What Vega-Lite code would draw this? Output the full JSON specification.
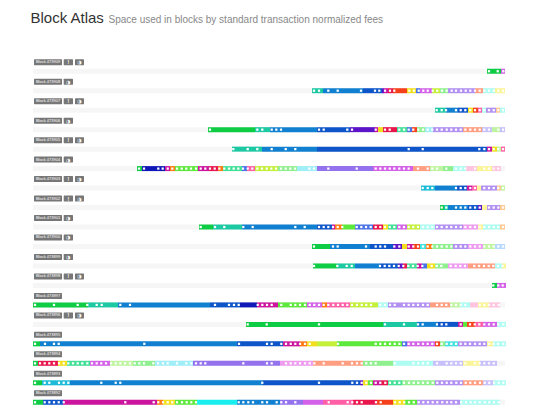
{
  "$schema": "https://vega.github.io/schema/vega-lite/v6.json",
  "width": 472,
  "height": 350.5,
  "autosize": "none",
  "padding": {"left": 33, "top": 57, "right": 35, "bottom": 0},
  "background": "white",
  "config": {
    "view": {"stroke": null},
    "axisX": {
      "labels": false,
      "ticks": false,
      "domain": false,
      "grid": false,
      "titleX": -3,
      "titleY": -385.5,
      "titleAlign": "left",
      "titleAnchor": "start",
      "titleBaseline": "alphabetic",
      "titleFontSize": 15,
      "titleFontWeight": "normal",
      "titleColor": "#333333",
      "titleFont": "Liberation Sans"
    }
  },
  "datasets": {
    "blocks": [
      {"block": "473909", "label": "Block 473909", "alert": true, "icon": true},
      {"block": "473908", "label": "Block 473908", "alert": false, "icon": true},
      {"block": "473907", "label": "Block 473907", "alert": true, "icon": true},
      {"block": "473906", "label": "Block 473906", "alert": false, "icon": true},
      {"block": "473905", "label": "Block 473905", "alert": true, "icon": true},
      {"block": "473904", "label": "Block 473904", "alert": false, "icon": true},
      {"block": "473903", "label": "Block 473903", "alert": true, "icon": true},
      {"block": "473902", "label": "Block 473902", "alert": true, "icon": true},
      {"block": "473901", "label": "Block 473901", "alert": false, "icon": true},
      {"block": "473900", "label": "Block 473900", "alert": false, "icon": true},
      {"block": "473899", "label": "Block 473899", "alert": false, "icon": true},
      {"block": "473898", "label": "Block 473898", "alert": true, "icon": true},
      {"block": "473897", "label": "Block 473897", "alert": false, "icon": false},
      {"block": "473896", "label": "Block 473896", "alert": true, "icon": true},
      {"block": "473895", "label": "Block 473895", "alert": false, "icon": false},
      {"block": "473894", "label": "Block 473894", "alert": false, "icon": false},
      {"block": "473893", "label": "Block 473893", "alert": false, "icon": false},
      {"block": "473892", "label": "Block 473892", "alert": false, "icon": false}
    ],
    "segments": [
      {"block":"473909","start":454,"end":468,"tier":0},{"block":"473909","start":468,"end":472,"tier":17},
      {"block":"473908","start":279,"end":290,"tier":1},{"block":"473908","start":290,"end":330,"tier":2},{"block":"473908","start":330,"end":349,"tier":3},{"block":"473908","start":349,"end":351,"tier":5},{"block":"473908","start":351,"end":355,"tier":6},{"block":"473908","start":355,"end":360,"tier":7},{"block":"473908","start":360,"end":374,"tier":8},{"block":"473908","start":374,"end":383,"tier":10},{"block":"473908","start":383,"end":387,"tier":15},{"block":"473908","start":387,"end":399,"tier":17},{"block":"473908","start":399,"end":407,"tier":11},{"block":"473908","start":407,"end":415,"tier":29},{"block":"473908","start":415,"end":442,"tier":30},{"block":"473908","start":442,"end":450,"tier":19},{"block":"473908","start":450,"end":462,"tier":23},{"block":"473908","start":462,"end":472,"tier":21},
      {"block":"473907","start":402,"end":413,"tier":1},{"block":"473907","start":413,"end":425,"tier":2},{"block":"473907","start":425,"end":435,"tier":3},{"block":"473907","start":435,"end":440,"tier":10},{"block":"473907","start":440,"end":445,"tier":8},{"block":"473907","start":445,"end":449,"tier":18},{"block":"473907","start":449,"end":453,"tier":23},{"block":"473907","start":453,"end":463,"tier":30},{"block":"473907","start":463,"end":467,"tier":20},{"block":"473907","start":467,"end":472,"tier":23},
      {"block":"473906","start":175,"end":222,"tier":0},{"block":"473906","start":222,"end":237,"tier":1},{"block":"473906","start":237,"end":284,"tier":2},{"block":"473906","start":284,"end":317,"tier":3},{"block":"473906","start":317,"end":342,"tier":5},{"block":"473906","start":342,"end":345,"tier":6},{"block":"473906","start":345,"end":350,"tier":10},{"block":"473906","start":350,"end":364,"tier":7},{"block":"473906","start":364,"end":374,"tier":13},{"block":"473906","start":374,"end":379,"tier":15},{"block":"473906","start":379,"end":384,"tier":8},{"block":"473906","start":384,"end":392,"tier":29},{"block":"473906","start":392,"end":400,"tier":28},{"block":"473906","start":400,"end":430,"tier":30},{"block":"473906","start":430,"end":449,"tier":19},{"block":"473906","start":449,"end":459,"tier":24},{"block":"473906","start":459,"end":467,"tier":22},{"block":"473906","start":467,"end":472,"tier":24},
      {"block":"473905","start":199,"end":229,"tier":1},{"block":"473905","start":229,"end":284,"tier":2},{"block":"473905","start":284,"end":454,"tier":3},{"block":"473905","start":454,"end":459,"tier":6},{"block":"473905","start":459,"end":464,"tier":10},{"block":"473905","start":464,"end":468,"tier":22},{"block":"473905","start":468,"end":472,"tier":18},
      {"block":"473904","start":104,"end":109,"tier":0},{"block":"473904","start":109,"end":132,"tier":4},{"block":"473904","start":132,"end":137,"tier":6},{"block":"473904","start":137,"end":142,"tier":9},{"block":"473904","start":142,"end":165,"tier":12},{"block":"473904","start":165,"end":176,"tier":6},{"block":"473904","start":176,"end":185,"tier":7},{"block":"473904","start":185,"end":190,"tier":9},{"block":"473904","start":190,"end":209,"tier":13},{"block":"473904","start":209,"end":214,"tier":15},{"block":"473904","start":214,"end":222,"tier":18},{"block":"473904","start":222,"end":245,"tier":11},{"block":"473904","start":245,"end":264,"tier":29},{"block":"473904","start":264,"end":284,"tier":28},{"block":"473904","start":284,"end":340,"tier":16},{"block":"473904","start":340,"end":380,"tier":17},{"block":"473904","start":380,"end":397,"tier":19},{"block":"473904","start":397,"end":410,"tier":22},{"block":"473904","start":410,"end":420,"tier":29},{"block":"473904","start":420,"end":433,"tier":23},{"block":"473904","start":433,"end":444,"tier":25},{"block":"473904","start":444,"end":459,"tier":21},{"block":"473904","start":459,"end":468,"tier":25},
      {"block":"473903","start":388,"end":402,"tier":26},{"block":"473903","start":402,"end":424,"tier":2},{"block":"473903","start":424,"end":434,"tier":3},{"block":"473903","start":434,"end":439,"tier":6},{"block":"473903","start":439,"end":444,"tier":18},{"block":"473903","start":444,"end":448,"tier":21},{"block":"473903","start":448,"end":464,"tier":30},{"block":"473903","start":464,"end":468,"tier":20},{"block":"473903","start":468,"end":472,"tier":22},
      {"block":"473902","start":407,"end":411,"tier":0},{"block":"473902","start":411,"end":415,"tier":1},{"block":"473902","start":415,"end":435,"tier":2},{"block":"473902","start":435,"end":445,"tier":3},{"block":"473902","start":445,"end":449,"tier":5},{"block":"473902","start":449,"end":454,"tier":21},{"block":"473902","start":454,"end":467,"tier":30},{"block":"473902","start":467,"end":472,"tier":20},
      {"block":"473901","start":166,"end":180,"tier":0},{"block":"473901","start":180,"end":209,"tier":1},{"block":"473901","start":209,"end":284,"tier":2},{"block":"473901","start":284,"end":299,"tier":3},{"block":"473901","start":299,"end":302,"tier":6},{"block":"473901","start":302,"end":309,"tier":9},{"block":"473901","start":309,"end":322,"tier":12},{"block":"473901","start":322,"end":340,"tier":15},{"block":"473901","start":340,"end":350,"tier":7},{"block":"473901","start":350,"end":355,"tier":10},{"block":"473901","start":355,"end":364,"tier":13},{"block":"473901","start":364,"end":374,"tier":17},{"block":"473901","start":374,"end":387,"tier":11},{"block":"473901","start":387,"end":402,"tier":23},{"block":"473901","start":402,"end":430,"tier":30},{"block":"473901","start":430,"end":445,"tier":31},{"block":"473901","start":445,"end":450,"tier":21},{"block":"473901","start":450,"end":467,"tier":23},{"block":"473901","start":467,"end":472,"tier":20},
      {"block":"473900","start":279,"end":297,"tier":0},{"block":"473900","start":297,"end":337,"tier":2},{"block":"473900","start":337,"end":360,"tier":3},{"block":"473900","start":360,"end":369,"tier":5},{"block":"473900","start":369,"end":374,"tier":10},{"block":"473900","start":374,"end":380,"tier":6},{"block":"473900","start":380,"end":387,"tier":8},{"block":"473900","start":387,"end":393,"tier":14},{"block":"473900","start":393,"end":399,"tier":9},{"block":"473900","start":399,"end":420,"tier":29},{"block":"473900","start":420,"end":435,"tier":30},{"block":"473900","start":435,"end":450,"tier":31},{"block":"473900","start":450,"end":462,"tier":22},{"block":"473900","start":462,"end":472,"tier":32},
      {"block":"473899","start":280,"end":304,"tier":0},{"block":"473899","start":304,"end":322,"tier":1},{"block":"473899","start":322,"end":347,"tier":2},{"block":"473899","start":347,"end":365,"tier":3},{"block":"473899","start":365,"end":370,"tier":5},{"block":"473899","start":370,"end":374,"tier":7},{"block":"473899","start":374,"end":384,"tier":13},{"block":"473899","start":384,"end":389,"tier":6},{"block":"473899","start":389,"end":394,"tier":15},{"block":"473899","start":394,"end":402,"tier":10},{"block":"473899","start":402,"end":415,"tier":29},{"block":"473899","start":415,"end":435,"tier":31},{"block":"473899","start":435,"end":462,"tier":19},{"block":"473899","start":462,"end":469,"tier":23},{"block":"473899","start":469,"end":473,"tier":21},
      {"block":"473898","start":459,"end":464,"tier":0},{"block":"473898","start":464,"end":473,"tier":17},
      {"block":"473897","start":0,"end":55,"tier":0},{"block":"473897","start":55,"end":85,"tier":1},{"block":"473897","start":85,"end":177,"tier":2},{"block":"473897","start":177,"end":207,"tier":3},{"block":"473897","start":207,"end":224,"tier":4},{"block":"473897","start":224,"end":245,"tier":6},{"block":"473897","start":245,"end":274,"tier":12},{"block":"473897","start":274,"end":289,"tier":17},{"block":"473897","start":289,"end":294,"tier":9},{"block":"473897","start":294,"end":317,"tier":18},{"block":"473897","start":317,"end":345,"tier":11},{"block":"473897","start":345,"end":355,"tier":23},{"block":"473897","start":355,"end":397,"tier":30},{"block":"473897","start":397,"end":417,"tier":19},{"block":"473897","start":417,"end":427,"tier":22},{"block":"473897","start":427,"end":437,"tier":23},{"block":"473897","start":437,"end":445,"tier":25},{"block":"473897","start":445,"end":456,"tier":21},{"block":"473897","start":456,"end":467,"tier":25},
      {"block":"473896","start":213,"end":350,"tier":0},{"block":"473896","start":350,"end":384,"tier":1},{"block":"473896","start":384,"end":405,"tier":2},{"block":"473896","start":405,"end":425,"tier":3},{"block":"473896","start":425,"end":430,"tier":6},{"block":"473896","start":430,"end":434,"tier":12},{"block":"473896","start":434,"end":442,"tier":8},{"block":"473896","start":442,"end":450,"tier":18},{"block":"473896","start":450,"end":464,"tier":17},{"block":"473896","start":464,"end":473,"tier":23},
      {"block":"473895","start":0,"end":7,"tier":0},{"block":"473895","start":7,"end":204,"tier":2},{"block":"473895","start":204,"end":250,"tier":3},{"block":"473895","start":250,"end":267,"tier":6},{"block":"473895","start":267,"end":274,"tier":9},{"block":"473895","start":274,"end":284,"tier":10},{"block":"473895","start":284,"end":304,"tier":11},{"block":"473895","start":304,"end":369,"tier":12},{"block":"473895","start":369,"end":374,"tier":15},{"block":"473895","start":374,"end":402,"tier":17},{"block":"473895","start":402,"end":407,"tier":8},{"block":"473895","start":407,"end":412,"tier":29},{"block":"473895","start":412,"end":425,"tier":14},{"block":"473895","start":425,"end":454,"tier":30},{"block":"473895","start":454,"end":460,"tier":21},{"block":"473895","start":460,"end":473,"tier":23},
      {"block":"473894","start":0,"end":5,"tier":0},{"block":"473894","start":5,"end":25,"tier":7},{"block":"473894","start":25,"end":34,"tier":10},{"block":"473894","start":34,"end":57,"tier":13},{"block":"473894","start":57,"end":77,"tier":17},{"block":"473894","start":77,"end":100,"tier":22},{"block":"473894","start":100,"end":122,"tier":29},{"block":"473894","start":122,"end":160,"tier":28},{"block":"473894","start":160,"end":247,"tier":16},{"block":"473894","start":247,"end":280,"tier":31},{"block":"473894","start":280,"end":330,"tier":19},{"block":"473894","start":330,"end":360,"tier":29},{"block":"473894","start":360,"end":400,"tier":23},{"block":"473894","start":400,"end":430,"tier":24},{"block":"473894","start":430,"end":447,"tier":21},{"block":"473894","start":447,"end":464,"tier":24},
      {"block":"473893","start":0,"end":9,"tier":0},{"block":"473893","start":9,"end":37,"tier":26},{"block":"473893","start":37,"end":230,"tier":2},{"block":"473893","start":230,"end":327,"tier":3},{"block":"473893","start":327,"end":330,"tier":5},{"block":"473893","start":330,"end":335,"tier":10},{"block":"473893","start":335,"end":340,"tier":12},{"block":"473893","start":340,"end":348,"tier":6},{"block":"473893","start":348,"end":355,"tier":7},{"block":"473893","start":355,"end":369,"tier":13},{"block":"473893","start":369,"end":402,"tier":29},{"block":"473893","start":402,"end":430,"tier":30},{"block":"473893","start":430,"end":450,"tier":19},{"block":"473893","start":450,"end":460,"tier":24},{"block":"473893","start":460,"end":473,"tier":23},
      {"block":"473892","start":0,"end":10,"tier":0},{"block":"473892","start":10,"end":30,"tier":3},{"block":"473892","start":30,"end":124,"tier":6},{"block":"473892","start":124,"end":130,"tier":9},{"block":"473892","start":130,"end":142,"tier":10},{"block":"473892","start":142,"end":164,"tier":12},{"block":"473892","start":164,"end":204,"tier":27},{"block":"473892","start":204,"end":247,"tier":2},{"block":"473892","start":247,"end":270,"tier":16},{"block":"473892","start":270,"end":290,"tier":17},{"block":"473892","start":290,"end":320,"tier":18},{"block":"473892","start":320,"end":344,"tier":7},{"block":"473892","start":344,"end":360,"tier":8},{"block":"473892","start":360,"end":372,"tier":10},{"block":"473892","start":372,"end":384,"tier":12},{"block":"473892","start":384,"end":427,"tier":30},{"block":"473892","start":427,"end":467,"tier":23}
    ],
    "dots": [
      {"block":"473909","pos":[456,464.7,470.3]},
      {"block":"473908","pos":[281,286,295.3,304.7,328,342,346.3,352,357,361.3,376.3,381,385.7,390.3,394.7,399.7,404.3,409,413.7,418.7,423,428,432.7,437.3,442,446.7,451.3,456,460.7,465.3,470]},
      {"block":"473907","pos":[403.7,408.7,413,423,427.7,432.3,437.3,442,446.7,451.3,456,460.7,465.3,470]},
      {"block":"473906","pos":[177,224.3,229.3,238.7,243.3,248,286,290.7,314.3,319,342.7,352,356.7,366.3,371,375.7,380.3,385.3,390,394.7,399.3,404,408.7,413.7,418.3,423,427.7,432.3,437.3,442,446.7,451.3,456,465.3,470]},
      {"block":"473905","pos":[200.3,214.7,224.3,238.7,252.7,262.3,375.7,389.7,446.3,451.3,456,460.7,465.3,470]},
      {"block":"473904","pos":[106,111,125.3,129.7,134.7,139.3,144,148.7,153.3,158,163,167.7,172.3,177,181.7,186.3,191.3,196,200.7,205.3,210,214.7,219.3,224.3,229,233.7,238.3,243,248,252.7,257.3,262,276.3,281,295.3,323.7,342.7,347.3,352,356.7,361.3,366.3,371,375.7,385,394.7,399.3,404,413.3,423,427.7,432.3,442,451.3,456,460.7,465.3]},
      {"block":"473903","pos":[389.7,394.7,399.3,423,427.7,432.3,437.3,442,451.3,456,460.7,465.3,470]},
      {"block":"473902","pos":[408.7,413.3,423,427.7,432.3,437.3,442,446.7,456,460.7,465.3,470]},
      {"block":"473901","pos":[167.7,182,191.3,210.3,219.7,262.3,271.7,286,290.7,295.3,300,304.7,309.3,323.7,328.3,333,337.7,342.7,347.3,352,356.7,361.3,366.3,371,375.7,380.3,385,390,394.7,399.3,404,408.7,413.7,418.3,423,427.7,432.3,437.3,442,446.7,451.3,456,460.7,465.3,470]},
      {"block":"473900","pos":[281,300,304.7,333,342.7,347.3,352,361.3,366.3,375.7,380.3,385,390,394.7,399.3,404,408.7,413.7,418.3,423,427.7,432.3,437.3,442,446.7,451.3,456,460.7,465.3,470]},
      {"block":"473899","pos":[281,304.3,313.7,318.7,347,351.7,356.3,361,365.7,370.3,375.3,380,384.7,389.3,398.7,403.7,408.3,417.7,422.7,427.3,432,441.3,446,451,455.7,460.3,465,469.7]},
      {"block":"473898","pos":[460.3,465.3,469.7]},
      {"block":"473897","pos":[2,21,44.7,54.3,63.7,68.7,87.3,97,182,196,201,205.7,224.7,229.3,234,238.7,248.3,257.7,262.3,267,272,276.7,281.3,286,290.7,295.3,300.3,305,309.7,314.3,319,324,328.7,333.3,338,347.3,352,357,361.7,371,375.7,380.3,385,390,394.7,404,408.7,413.3,418.3,423,427.7,432.3,446.7,451.3,456,460.7,465.7]},
      {"block":"473896","pos":[214.7,233.7,286,352,371,385,389.7,404,408.7,413.3,427.7,437,441.7,446.3,451.3,456,460.7,465.3,470.3]},
      {"block":"473895","pos":[2,12,21,25.7,111.3,206,234,238.7,248.3,253,257.7,262.3,267,272,276.7,305,342.7,347.3,352,357,361.7,366.3,371,375.7,380.3,385.3,390,394.7,399.3,404,408.7,413.7,418.3,423,427.7,432.3,437,442,446.7,451.3,456,460.7,465,470.3]},
      {"block":"473894","pos":[2,7,11.7,16.3,21,26,30.7,35.3,40,44.7,49.3,54.3,59,63.7,68.3,73,78,82.7,87.3,92,97,101.7,106.3,111,120.3,125,130,134.7,144,153.3,158.3,163,167.7,172.3,210.3,234,238.7,253,257.7,262.3,267,272,276.7,281.3,290.7,309.7,319,324,328.7,333.3,338,342.7,361.7,380.3,385.3,390,394.7,404,413.7,418.3,423,427.7,432.3,442,446.7,451.3,456,460.7]},
      {"block":"473893","pos":[2,11.7,16.3,26,30.7,35.3,68.3,82.7,87.3,229.3,286,319.3,324,328.7,333.3,338,342.7,347.3,352.3,357,361.7,366.3,371,376,380.7,385.3,390,394.7,399.7,404.3,409,413.7,418.3,423.3,428,432.7,437.3,442,447,451.7,456.3,461,465.7,470.3]},
      {"block":"473892","pos":[2,11.7,16.3,21,25.7,30.7,92.3,120.7,125.3,130,134.7,139.3,144,149,153.7,158.3,163,205.7,210.3,215.3,220,229.3,234,243.7,248.3,253,262.3,295.7,314.7,319.3,324,328.7,343,347.7,362,366.7,371.3,376,380.7,385.7,390.3,395,399.7,404.3,409.3,414,418.3,423,428.3,433,437.7,442,446.7,451.7,456.3,461,465.7]}
    ]
  },
  "encoding": {
    "y": {
      "field": "block",
      "type": "ordinal",
      "scale": {
        "type": "band",
        "domain": ["473909","473908","473907","473906","473905","473904","473903","473902","473901","473900","473899","473898","473897","473896","473895","473894","473893","473892"],
        "paddingInner": 0,
        "paddingOuter": 0
      },
      "axis": {
        "title": "Space used in blocks by standard transaction normalized fees",
        "titleAngle": 0,
        "titleX": 75,
        "titleY": -35,
        "titleAlign": "left",
        "titleBaseline": "alphabetic",
        "titleFontSize": 10,
        "titleFontWeight": "normal",
        "titleColor": "#888888",
        "titleFont": "Liberation Sans",
        "labels": false,
        "ticks": false,
        "domain": false,
        "grid": false
      }
    }
  },
  "layer": [
    {
      "data": {"name": "blocks"},
      "mark": {"type": "bar", "height": 5, "yOffset": 4.5, "color": "#f6f6f6"},
      "encoding": {
        "x": {"datum": 0, "type": "quantitative", "title": "Block Atlas", "scale": {"domain": [0, 472], "nice": false, "zero": false}},
        "x2": {"datum": 472}
      }
    },
    {
      "data": {"name": "segments"},
      "mark": {"type": "bar", "height": 5, "yOffset": 4.5},
      "encoding": {
        "x": {"field": "start", "type": "quantitative", "title": "Block Atlas", "scale": {"domain": [0, 472], "nice": false, "zero": false}},
        "x2": {"field": "end"},
        "color": {
          "field": "tier",
          "type": "ordinal",
          "legend": null,
          "scale": {
            "domain": [0,1,2,3,4,5,6,7,8,9,10,11,12,13,14,15,16,17,18,19,20,21,22,23,24,25,26,27,28,29,30,31,32],
            "range": ["#0fcc45","#1cc9a3","#1180d0","#0d55c8","#1018b8","#5c14c8","#cc159f","#e8164d","#f5401c","#ff7a14","#f2e01e","#c4f03a","#5de83c","#42e096","#44e2de","#4a72e6","#9472ee","#d462e8","#ff5fa6","#ff9e80","#ffc890","#fbf59a","#bff5a0","#aefcf2","#c8c0fa","#ffc4de","#1cbcd8","#18eeee","#a0eef8","#90f090","#b290f2","#ee9cf0","#b8d8ff"]
          }
        }
      }
    },
    {
      "data": {"name": "dots"},
      "transform": [{"flatten": ["pos"]}],
      "mark": {"type": "square", "size": 5, "color": "white", "opacity": 1, "yOffset": 4.5},
      "encoding": {
        "x": {"field": "pos", "type": "quantitative", "title": "Block Atlas", "scale": {"domain": [0, 472], "nice": false, "zero": false}}
      }
    },
    {
      "data": {"name": "blocks"},
      "mark": {"type": "bar", "height": 6, "yOffset": -4.5, "color": "#777777", "cornerRadius": 0.5},
      "encoding": {
        "x": {"datum": 1, "type": "quantitative", "title": "Block Atlas", "scale": {"domain": [0, 472], "nice": false, "zero": false}},
        "x2": {"datum": 29}
      }
    },
    {
      "data": {"name": "blocks"},
      "mark": {"type": "text", "fontSize": 4, "color": "white", "yOffset": -4.5, "baseline": "middle", "align": "center", "font": "Liberation Sans"},
      "encoding": {
        "x": {"datum": 15, "type": "quantitative", "title": "Block Atlas", "scale": {"domain": [0, 472], "nice": false, "zero": false}},
        "text": {"field": "label"}
      }
    },
    {
      "data": {"name": "blocks"},
      "transform": [{"filter": "datum.icon"}],
      "mark": {"type": "bar", "height": 6, "yOffset": -4.5, "color": "#777777", "cornerRadius": 0.5},
      "encoding": {
        "x": {"datum": 30.7, "type": "quantitative", "title": "Block Atlas", "scale": {"domain": [0, 472], "nice": false, "zero": false}},
        "x2": {"datum": 40}
      }
    },
    {
      "data": {"name": "blocks"},
      "transform": [{"filter": "datum.alert"}],
      "mark": {"type": "bar", "height": 6, "yOffset": -4.5, "color": "#777777", "cornerRadius": 0.5},
      "encoding": {
        "x": {"datum": 42, "type": "quantitative", "title": "Block Atlas", "scale": {"domain": [0, 472], "nice": false, "zero": false}},
        "x2": {"datum": 51}
      }
    },
    {
      "data": {"name": "blocks"},
      "transform": [{"filter": "datum.alert"}],
      "mark": {"type": "text", "fontSize": 5, "fontWeight": "bold", "color": "white", "yOffset": -4.5, "baseline": "middle", "align": "center", "font": "Liberation Sans"},
      "encoding": {
        "x": {"datum": 35.3, "type": "quantitative", "title": "Block Atlas", "scale": {"domain": [0, 472], "nice": false, "zero": false}},
        "text": {"value": "!"}
      }
    },
    {
      "data": {"name": "blocks"},
      "transform": [{"filter": "datum.icon && !datum.alert"}],
      "mark": {"type": "text", "fontSize": 5, "color": "white", "yOffset": -4.5, "baseline": "middle", "align": "center", "font": "DejaVu Sans"},
      "encoding": {
        "x": {"datum": 35.3, "type": "quantitative", "title": "Block Atlas", "scale": {"domain": [0, 472], "nice": false, "zero": false}},
        "text": {"value": "◑"}
      }
    },
    {
      "data": {"name": "blocks"},
      "transform": [{"filter": "datum.alert"}],
      "mark": {"type": "text", "fontSize": 5, "color": "white", "yOffset": -4.5, "baseline": "middle", "align": "center", "font": "DejaVu Sans"},
      "encoding": {
        "x": {"datum": 46.5, "type": "quantitative", "title": "Block Atlas", "scale": {"domain": [0, 472], "nice": false, "zero": false}},
        "text": {"value": "◑"}
      }
    }
  ]
}
